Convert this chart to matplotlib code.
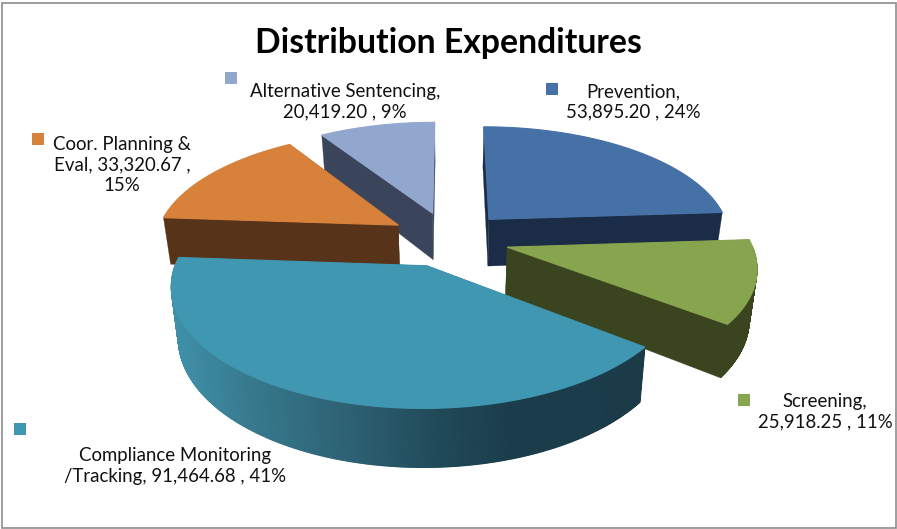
# exploded 3D pie with perspective, drawn by hand since matplotlib has no 3D pie
import numpy as np
import matplotlib
matplotlib.use("Agg")
import matplotlib.pyplot as plt
from matplotlib.colors import LinearSegmentedColormap
from matplotlib.patches import Rectangle

plt.rcParams['font.family'] = ['Lato', 'DejaVu Sans']

title = "Distribution Expenditures"
# clockwise from 12 o'clock
categories = ["Prevention", "Screening", "Compliance Monitoring /Tracking",
              "Coor. Planning & Eval", "Alternative Sentencing"]
values = [53895.20, 25918.25, 91464.68, 33320.67, 20419.20]
labels = ["Prevention,\n53,895.20 , 24%",
          "Screening,\n25,918.25 , 11%",
          "Compliance Monitoring\n/Tracking, 91,464.68 , 41%",
          "Coor. Planning &\nEval, 33,320.67 ,\n15%",
          "Alternative Sentencing,\n20,419.20 , 9%"]
top_colors = ["#4571A7", "#87A44E", "#4097B1", "#D7813A", "#91A7CD"]
side_colors = ["#1B2C47", "#3A451F", "#1B3B49", "#57331A", "#3A445A"]
label_pos = [(633, 102), (825, 412), (175, 466), (122, 165), (345, 102)]
square_pos = [(552, 89), (744, 400), (20, 429), (38, 139), (231, 78)]

# camera, fitted to the picture
cx, cy = 449, 239
radius = 243
explode = 60
squash = 0.461
persp = 0.000623
height = 48
draw_order = [4, 0, 3, 1, 2]

rim_cmap = LinearSegmentedColormap.from_list("rim", [(0.0, "#3F8FA8"), (0.16, "#37798D"),
                                                     (0.38, "#2C6072"), (0.56, "#204A59"),
                                                     (0.72, "#1B3D4B"), (1.0, "#1B3B49")])

def project(X, Y, bottom=False):
    s = 1/(1 + persp*Y)
    x = cx + X*s
    y = cy - squash*Y*s
    if bottom:
        x = cx + (x - cx)*0.975
        y = y + height*s
    return x, y

fig = plt.figure(figsize=(8.97, 5.29), dpi=100)
ax = fig.add_axes([0, 0, 1, 1])
ax.set_xlim(0, 897)
ax.set_ylim(529, 0)
ax.axis('off')

ends = np.cumsum(values)/np.sum(values)*2*np.pi
starts = np.concatenate(([0], ends[:-1]))

for i in draw_order:
    mid = (starts[i] + ends[i])/2
    ax0, ay0 = explode*np.sin(mid), explode*np.cos(mid)
    th = np.linspace(starts[i], ends[i], 500)
    rx = ax0 + radius*np.sin(th)
    ry = ay0 + radius*np.cos(th)
    xt, yt = project(rx, ry)
    xb, yb = project(rx, ry, True)
    # outer rim, one facet at a time so the teal one can shade
    for j in range(len(th) - 1):
        if np.cos(th[j]) > 0:  # back of the pie, hidden anyway
            continue
        if i == 2:
            c = rim_cmap(np.clip((xt[j] - 175)/465, 0, 1))
            ax.fill([xt[j], xt[j+1], xb[j+1], xb[j]], [yt[j], yt[j+1], yb[j+1], yb[j]],
                    color=c, lw=0.8)
        else:
            ax.fill([xt[j], xt[j+1], xb[j+1], xb[j]], [yt[j], yt[j+1], yb[j+1], yb[j]],
                    color=side_colors[i], lw=0.3)
    # the two flat cut faces
    axt, ayt = project(ax0, ay0)
    axb, ayb = project(ax0, ay0, True)
    for k in [0, -1]:
        ax.fill([axt, xt[k], xb[k], axb], [ayt, yt[k], yb[k], ayb],
                color=side_colors[i], lw=0.2)
    # top face
    ax.fill(np.r_[axt, xt], np.r_[ayt, yt], color=top_colors[i], lw=0.8)

ax.text(448.5, 43, title, ha='center', va='center', fontsize=24.3, fontweight='bold', color='black')

for i in range(len(values)):
    ax.text(label_pos[i][0], label_pos[i][1], labels[i], ha='center', va='center',
            multialignment='center', fontsize=13.4, color='#111111', linespacing=1.26)
    ax.add_patch(Rectangle((square_pos[i][0] - 6, square_pos[i][1] - 6), 12, 12,
                           facecolor=top_colors[i], edgecolor='none'))

# chart frame
ax.add_patch(Rectangle((1.5, 2.5), 894.5, 525.5, fill=False, edgecolor='#8C8C8C', lw=1.2))

fig.savefig("out.png", dpi=100)
